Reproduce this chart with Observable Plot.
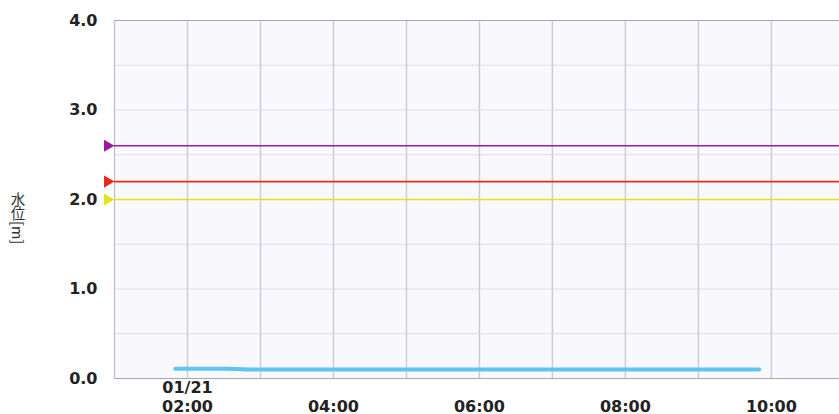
<!DOCTYPE html>
<html><head><meta charset="utf-8">
<script src="https://cdn.jsdelivr.net/npm/d3@7"></script>
<script src="https://cdn.jsdelivr.net/npm/@observablehq/plot@0.6"></script>
<style>
html,body{margin:0;padding:0;background:#fff;overflow:hidden}
#wrap{position:relative;width:839px;height:414px}
#wrap svg{display:block}
#ylab{position:absolute;left:10px;top:192px;writing-mode:vertical-rl;font-family:"Noto Sans CJK JP","Noto Sans CJK SC",sans-serif;font-size:14.5px;color:#333;line-height:1}
</style></head><body>
<div id="wrap"><div id="ylab">水位[m]</div></div>
<script>
const day = "2025-01-21";
const times = ["01:50","02:00","02:10","02:20","02:30","02:40","02:50","03:00","03:10","03:20","03:30","03:40","03:50",
  "04:00","04:10","04:20","04:30","04:40","04:50","05:00","05:10","05:20","05:30","05:40","05:50",
  "06:00","06:10","06:20","06:30","06:40","06:50","07:00","07:10","07:20","07:30","07:40","07:50",
  "08:00","08:10","08:20","08:30","08:40","08:50","09:00","09:10","09:20","09:30","09:40","09:50"];
const levels = [0.11,0.11,0.11,0.11,0.11,0.105,0.10,0.10,0.10,0.10,0.10,0.10,0.10,
  0.10,0.10,0.10,0.10,0.10,0.10,0.10,0.10,0.10,0.10,0.10,0.10,
  0.10,0.10,0.10,0.10,0.10,0.10,0.10,0.10,0.10,0.10,0.10,0.10,
  0.10,0.10,0.10,0.10,0.10,0.10,0.10,0.10,0.10,0.10,0.10,0.10];
const thresholdValues = [2.6, 2.2, 2.0];
const thresholdColors = ["#9b1aa3", "#ec2a1c", "#e4e41e"];
const xTickTimes = ["02:00","04:00","06:00","08:00","10:00"];
const xTickLabels = ["01/21\n02:00","04:00","06:00","08:00","10:00"];
const xGridTimes = ["02:00","03:00","04:00","05:00","06:00","07:00","08:00","09:00","10:00"];
const yTicks = [0, 1, 2, 3, 4];
const yGrid = [0.5, 1, 1.5, 2, 2.5, 3, 3.5];
const xDomain = ["01:00", "10:56"];

const t = s => new Date(`${day}T${s}:00Z`);
const series = times.map((s, i) => ({time: t(s), level: levels[i]}));
const thresholds = thresholdValues.map((v, i) => ({value: v, color: thresholdColors[i]}));
const x0 = t(xDomain[0]);

const plot = Plot.plot({
  width: 839, height: 414,
  marginLeft: 114, marginRight: 0, marginTop: 20, marginBottom: 36,
  style: {fontFamily: "DejaVu Sans", fontSize: "16px", fontWeight: "bold", color: "#222", background: "transparent", overflow: "visible"},
  x: {type: "utc", domain: xDomain.map(t), axis: null},
  y: {domain: [0, 4], axis: null},
  color: {type: "identity"},
  marks: [
    Plot.frame({fill: "#f8f8fd", stroke: null}),
    Plot.gridY({ticks: yGrid, stroke: "#dfdfea", strokeOpacity: 1, strokeWidth: 1}),
    Plot.gridX({ticks: xGridTimes.map(t), stroke: "#cdcdd6", strokeOpacity: 1, strokeWidth: 1.5}),
    Plot.ruleY([0, 4], {stroke: "#a9a9ae", strokeWidth: 1.2}),
    Plot.ruleX([x0], {stroke: "#bdbdc6", strokeWidth: 1.2}),
    Plot.ruleY(thresholds, {y: "value", stroke: "color", strokeWidth: 1.6}),
    Plot.dot(thresholds, {x: () => x0, y: "value", symbol: "triangle", rotate: 90, r: 4.5, fill: "color", stroke: null, dx: -7}),
    Plot.line(series, {x: "time", y: "level", stroke: "#5cc6f0", strokeWidth: 4}),
    Plot.axisY({ticks: yTicks, tickFormat: d => d.toFixed(1), tickSize: 0, tickPadding: 17}),
    Plot.text(xTickTimes.map(t), {x: d => d, text: (d, i) => xTickLabels[i], frameAnchor: "bottom", dy: 33, lineAnchor: "bottom", lineHeight: 1.15})
  ]
});
document.getElementById("wrap").prepend(plot);
</script>
</body></html>
